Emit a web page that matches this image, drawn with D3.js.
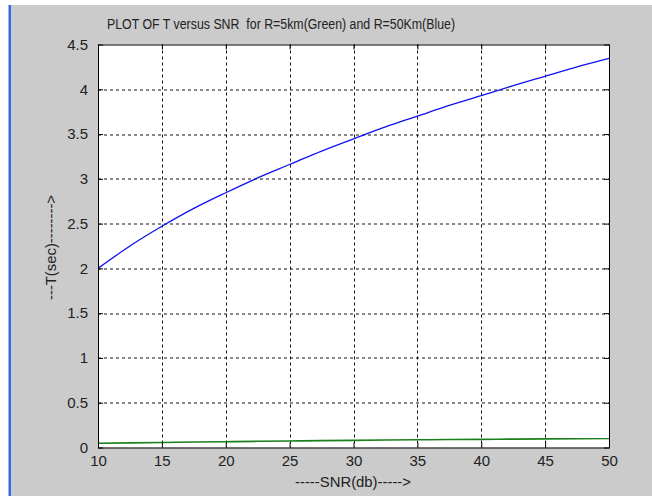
<!DOCTYPE html>
<html>
<head>
<meta charset="utf-8">
<script src="https://cdn.jsdelivr.net/npm/d3@7"></script>
<style>
  body { margin: 0; background: #fff; }
  text { font-family: "Liberation Sans", Arial, sans-serif; fill: #222; white-space: pre; }
</style>
</head>
<body>
<div id="chart"></div>
<script>
//data
const snr = [10, 12.5, 15, 17.5, 20, 22.5, 25, 27.5, 30, 32.5, 35, 37.5, 40, 42.5, 45, 47.5, 50];
const tBlue = [2.00, 2.25, 2.47, 2.67, 2.845, 3.01, 3.16, 3.31, 3.447, 3.58, 3.70, 3.82, 3.93, 4.04, 4.145, 4.25, 4.345];
const tGreen = [0.047, 0.052, 0.056, 0.061, 0.065, 0.069, 0.073, 0.077, 0.080, 0.083, 0.086, 0.089, 0.091, 0.094, 0.096, 0.098, 0.100];
const xTicks = [10, 15, 20, 25, 30, 35, 40, 45, 50];
const yTicks = [0, 0.5, 1, 1.5, 2, 2.5, 3, 3.5, 4, 4.5];
const titleText = "PLOT OF T versus SNR  for R=5km(Green) and R=50Km(Blue)";
const xLabel = "-----SNR(db)----->";
const yLabel = "---T(sec)-------->";

const W = 652, H = 496;
const margin = { top: 44.5, right: 43, bottom: 48.5, left: 98 },
    width = W - margin.left - margin.right,
    height = H - margin.top - margin.bottom;

const root = d3.select("#chart").append("svg")
    .attr("width", W)
    .attr("height", H);

//window background + blue left border
root.append("rect").attr("width", W).attr("height", H).attr("fill", "#fff");
root.append("rect").attr("x", 11).attr("y", 5).attr("width", W - 11).attr("height", H - 5).attr("fill", "#cbcbcb");
root.append("rect").attr("x", 8.5).attr("y", 5).attr("width", 2.5).attr("height", H - 5).attr("fill", "#2f6ae6");

const svg = root.append("g")
    .attr("transform", `translate(${margin.left},${margin.top})`);

const x = d3.scaleLinear().domain([10, 50]).range([0, width]);
const y = d3.scaleLinear().domain([0, 4.5]).range([height, 0]);

svg.append("rect").attr("width", width).attr("height", height).attr("fill", "#fff");

//grid
svg.append("g").selectAll("line")
    .data(xTicks.slice(1, -1))
    .enter().append("line")
    .attr("x1", d => Math.round(x(d)) + 0.5).attr("x2", d => Math.round(x(d)) + 0.5)
    .attr("y1", 0).attr("y2", height)
    .attr("stroke", "#111").attr("stroke-dasharray", "3,3");
svg.append("g").selectAll("line")
    .data(yTicks.slice(1, -1))
    .enter().append("line")
    .attr("y1", d => Math.round(y(d)) + 0.5).attr("y2", d => Math.round(y(d)) + 0.5)
    .attr("x1", 0).attr("x2", width)
    .attr("stroke", "#111").attr("stroke-dasharray", "3,3");

//lines
const line = (vals) => d3.line()
    .x((d, i) => x(snr[i]))
    .y(d => y(d))
    .curve(d3.curveMonotoneX)(vals);

svg.append("path").attr("d", line(tGreen))
    .attr("fill", "none").attr("stroke", "#1b801b").attr("stroke-width", 1.6);
svg.append("path").attr("d", line(tBlue))
    .attr("fill", "none").attr("stroke", "#1010f0").attr("stroke-width", 1.3);

//axes (ticks inside, box on)
const axisStyle = g => {
    g.select(".domain").remove();
    g.selectAll("line").attr("stroke", "#000");
    g.selectAll("text").style("font-size", "15px").attr("fill", "#222");
};
svg.append("g")
    .attr("transform", `translate(0,${height})`)
    .call(d3.axisBottom(x).tickValues(xTicks).tickSizeInner(-5).tickSizeOuter(0).tickPadding(8).tickFormat(d3.format("d")))
    .call(axisStyle);
svg.append("g")
    .call(d3.axisTop(x).tickValues(xTicks).tickSizeInner(-5).tickSizeOuter(0).tickFormat(""))
    .call(axisStyle);
svg.append("g")
    .call(d3.axisLeft(y).tickValues(yTicks).tickSizeInner(-5).tickSizeOuter(0).tickPadding(10).tickFormat(d => d3.format("")(d)))
    .call(axisStyle);
svg.append("g")
    .attr("transform", `translate(${width},0)`)
    .call(d3.axisRight(y).tickValues(yTicks).tickSizeInner(-5).tickSizeOuter(0).tickFormat(""))
    .call(axisStyle);

svg.append("rect").attr("x", 0.5).attr("y", 0.5).attr("width", width).attr("height", height)
    .attr("fill", "none").attr("stroke", "#000");

//title and axis labels
root.append("text")
    .attr("x", 107)
    .attr("y", 29)
    .attr("textLength", 348)
    .attr("lengthAdjust", "spacingAndGlyphs")
    .style("font-size", "14px")
    .text(titleText);
root.append("text")
    .attr("x", 295)
    .attr("y", 487)
    .attr("textLength", 116)
    .attr("lengthAdjust", "spacingAndGlyphs")
    .style("font-size", "14px")
    .text(xLabel);
root.append("text")
    .attr("transform", `translate(56,300) rotate(-90)`)
    .attr("textLength", 105)
    .attr("lengthAdjust", "spacingAndGlyphs")
    .style("font-size", "14px")
    .text(yLabel);
</script>
</body>
</html>
